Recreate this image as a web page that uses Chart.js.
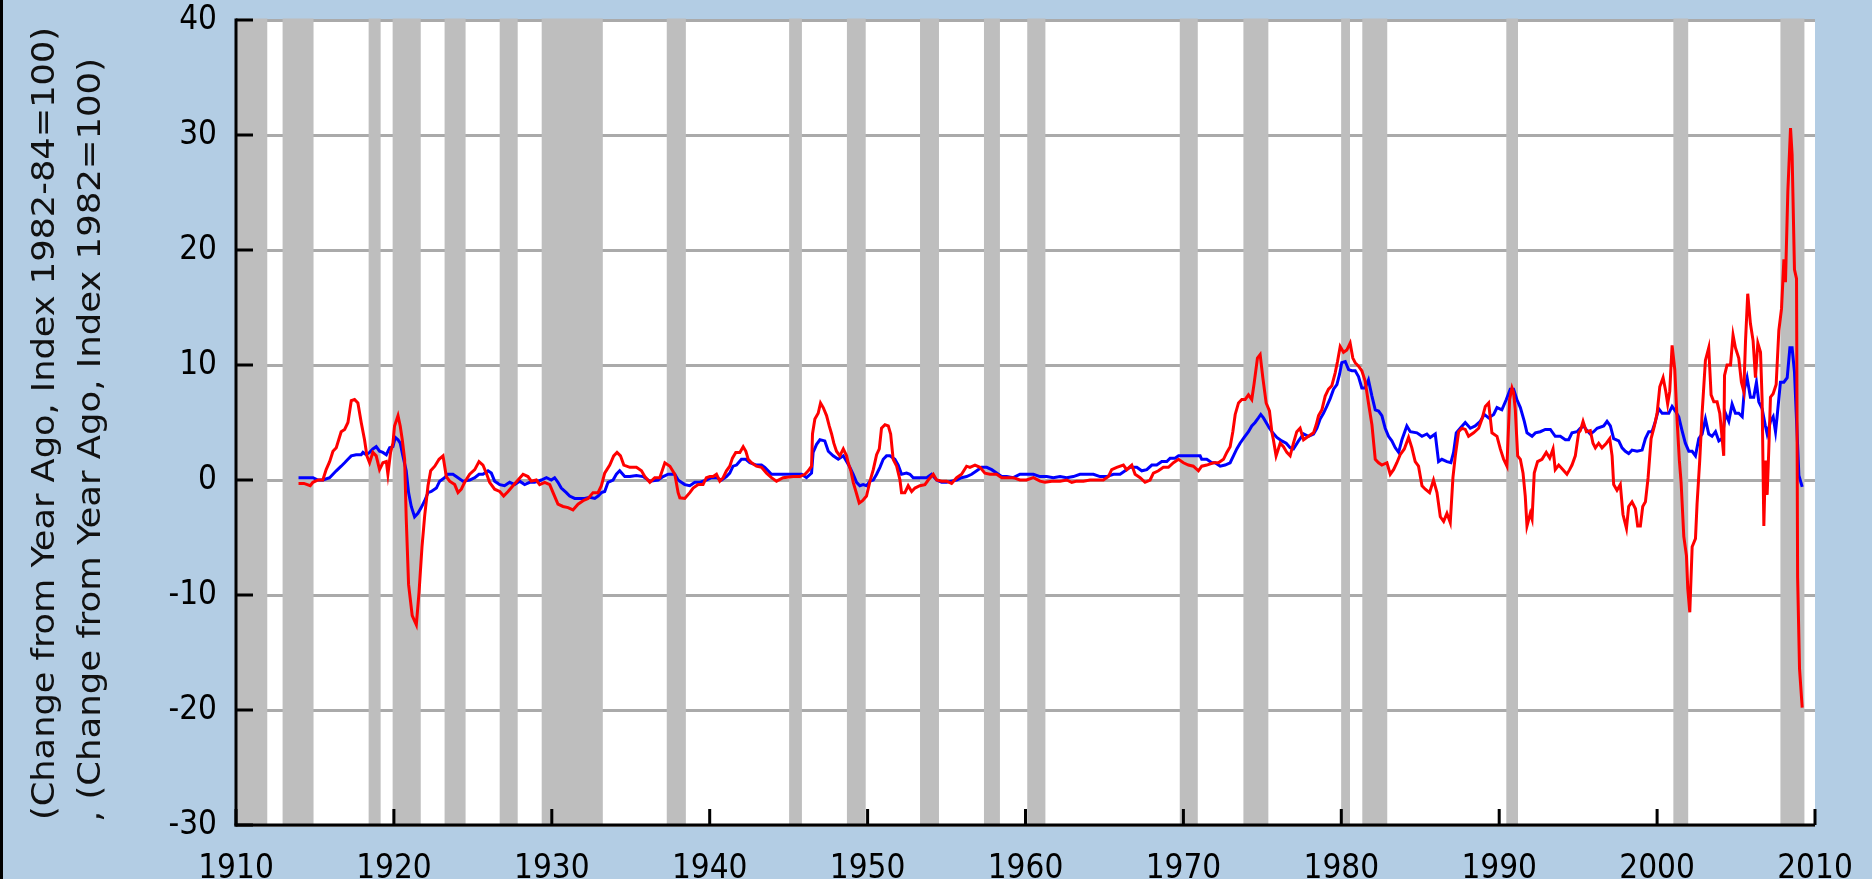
<!DOCTYPE html>
<html>
<head>
<meta charset="utf-8">
<title>Change from Year Ago</title>
<script src="https://cdn.jsdelivr.net/npm/chart.js@4.4.0/dist/chart.umd.min.js"></script>
<style>
  html, body { margin: 0; padding: 0; background: #b3cde4; overflow: hidden; }
  #wrap { position: relative; width: 1872px; height: 879px; }
</style>
</head>
<body>
<div id="wrap"><canvas id="chart" width="1872" height="879"></canvas></div>
<script>
// ── Data ─────────────────────────────────────────────────────────────────────

// Red series: (Change from Year Ago, Index 1982=100)
const ppiDates = [
  1913.96, 1914.30, 1914.70, 1914.87, 1915.20, 1915.50, 1915.71, 1915.93, 1916.14, 1916.35, 1916.66, 1916.88, 1917.09, 1917.30, 1917.51, 1917.72, 1917.93, 1918.14, 1918.29, 1918.46, 1918.67, 1918.88, 1919.09, 1919.30, 1919.52, 1919.62, 1919.79, 1919.94,
  1920.04, 1920.26, 1920.40, 1920.53, 1920.68, 1920.78, 1920.93, 1921.16, 1921.42, 1921.59, 1921.78, 1921.95, 1922.16, 1922.33, 1922.59, 1922.86, 1923.11, 1923.32, 1923.53, 1923.85, 1924.06, 1924.27, 1924.48, 1924.80, 1925.12, 1925.39, 1925.64, 1925.85, 1926.06, 1926.38, 1926.70, 1926.95, 1927.23, 1927.54, 1927.86, 1928.18, 1928.49, 1928.70, 1929.02, 1929.23, 1929.55, 1929.87,
  1930.08, 1930.39, 1930.71, 1931.03, 1931.34, 1931.66, 1931.98, 1932.30, 1932.61, 1932.93, 1933.14, 1933.35, 1933.67, 1933.92, 1934.13, 1934.35, 1934.56, 1934.94, 1935.36, 1935.68, 1935.89, 1936.21, 1936.52, 1936.84, 1937.16, 1937.48, 1937.79, 1938.00, 1938.11, 1938.42, 1938.74, 1938.95, 1939.27, 1939.58, 1939.79,
  1940.01, 1940.22, 1940.43, 1940.64, 1940.85, 1941.06, 1941.27, 1941.44, 1941.65, 1941.91, 1942.12, 1942.29, 1942.44, 1942.65, 1942.96, 1943.28, 1943.60, 1943.91, 1944.23, 1944.65, 1945.29, 1945.71, 1946.03, 1946.24, 1946.45, 1946.51, 1946.66, 1946.87, 1947.02, 1947.19, 1947.40, 1947.57, 1947.72, 1947.86, 1948.03, 1948.24, 1948.46, 1948.67, 1948.77, 1948.94, 1949.09, 1949.26, 1949.47, 1949.68, 1949.93,
  1950.15, 1950.36, 1950.57, 1950.74, 1950.88, 1951.10, 1951.31, 1951.46, 1951.62, 1951.84, 1952.05, 1952.15, 1952.36, 1952.57, 1952.79, 1953.00, 1953.31, 1953.63, 1953.84, 1954.16, 1954.37, 1954.69, 1955.00, 1955.32, 1955.64, 1955.95, 1956.27, 1956.48, 1956.80, 1957.12, 1957.43, 1957.75, 1958.17, 1958.49, 1958.91, 1959.23, 1959.65,
  1960.07, 1960.50, 1960.92, 1961.24, 1961.66, 1962.19, 1962.61, 1962.93, 1963.24, 1963.67, 1964.09, 1964.62, 1964.93, 1965.25, 1965.46, 1965.78, 1966.20, 1966.41, 1966.73, 1966.94, 1967.26, 1967.57, 1967.89, 1968.10, 1968.42, 1968.73, 1969.05, 1969.37, 1969.69,
  1970.00, 1970.32, 1970.63, 1970.95, 1971.16, 1971.48, 1971.90, 1972.22, 1972.54, 1972.75, 1972.96, 1973.13, 1973.28, 1973.49, 1973.70, 1973.91, 1974.12, 1974.33, 1974.48, 1974.69, 1974.86, 1975.03, 1975.24, 1975.45, 1975.60, 1975.70, 1975.87, 1976.13, 1976.34, 1976.55, 1976.76, 1976.97, 1977.18, 1977.39, 1977.61, 1977.92, 1978.24, 1978.41, 1978.56, 1978.77, 1978.98, 1979.19, 1979.40, 1979.61, 1979.76, 1979.93,
  1980.14, 1980.35, 1980.56, 1980.73, 1980.88, 1981.09, 1981.30, 1981.51, 1981.72, 1981.94, 1982.15, 1982.36, 1982.57, 1982.89, 1983.10, 1983.31, 1983.52, 1983.73, 1983.99, 1984.26, 1984.47, 1984.68, 1984.89, 1985.11, 1985.32, 1985.59, 1985.84, 1986.06, 1986.27, 1986.48, 1986.69, 1986.90, 1987.07, 1987.22, 1987.43, 1987.64, 1987.85, 1988.06, 1988.38, 1988.70, 1988.91, 1989.12, 1989.33, 1989.54, 1989.86,
  1990.07, 1990.28, 1990.49, 1990.66, 1990.81, 1990.91, 1991.02, 1991.17, 1991.34, 1991.51, 1991.65, 1991.76, 1991.97, 1992.08, 1992.22, 1992.43, 1992.71, 1992.98, 1993.20, 1993.41, 1993.55, 1993.77, 1994.04, 1994.29, 1994.46, 1994.61, 1994.82, 1995.03, 1995.14, 1995.31, 1995.52, 1995.77, 1995.94, 1996.09, 1996.30, 1996.51, 1996.79, 1997.00, 1997.15, 1997.25, 1997.46, 1997.67, 1997.84, 1998.06, 1998.20, 1998.41, 1998.63, 1998.77, 1998.94, 1999.09, 1999.26, 1999.43, 1999.62, 1999.83,
  2000.00, 2000.17, 2000.38, 2000.55, 2000.67, 2000.80, 2000.95, 2001.12, 2001.27, 2001.41, 2001.52, 2001.69, 2001.86, 2001.94, 2002.07, 2002.22, 2002.43, 2002.53, 2002.70, 2002.85, 2003.06, 2003.27, 2003.42, 2003.59, 2003.80, 2003.97, 2004.12, 2004.22, 2004.27, 2004.43, 2004.65, 2004.81, 2004.96, 2005.17, 2005.34, 2005.49, 2005.60, 2005.74, 2005.91, 2006.08, 2006.23, 2006.38, 2006.55, 2006.65, 2006.76, 2006.86, 2006.97, 2007.07, 2007.18, 2007.35, 2007.54, 2007.71, 2007.88, 2008.03, 2008.13, 2008.28, 2008.45, 2008.55, 2008.70, 2008.83, 2008.90, 2009.02, 2009.19,
];
const ppiValues = [
  -0.3, -0.3, -0.5, -0.2, 0.0, 0.0, 0.9, 1.6, 2.5, 2.8, 4.2, 4.4, 5.0, 6.9, 7.0, 6.7, 5.0, 3.5, 2.1, 1.5, 2.4, 2.1, 0.9, 1.5, 1.6, 0.5, 2.4, 3.2,
  4.7, 5.6, 4.7, 3.5, 1.8, -3.3, -9.1, -11.8, -12.6, -9.8, -5.8, -3.1, -0.5, 0.8, 1.2, 1.8, 2.1, 0.3, -0.1, -0.4, -1.1, -0.8, -0.2, 0.5, 0.9, 1.6, 1.3, 0.6, -0.2, -0.8, -1.0, -1.4, -1.0, -0.5, 0.0, 0.5, 0.3, -0.1, 0.0, -0.4, -0.2, -0.4,
  -1.1, -2.1, -2.3, -2.4, -2.6, -2.1, -1.8, -1.6, -1.1, -1.1, -0.5, 0.6, 1.3, 2.1, 2.4, 2.1, 1.3, 1.1, 1.1, 0.8, 0.3, -0.2, 0.2, 0.2, 1.5, 1.2, 0.5, -1.1, -1.55, -1.6, -1.1, -0.7, -0.4, -0.4, 0.2,
  0.3, 0.3, 0.5, -0.1, 0.2, 0.8, 1.2, 1.9, 2.4, 2.4, 2.9, 2.5, 1.8, 1.5, 1.2, 1.1, 0.6, 0.2, -0.1, 0.2, 0.3, 0.3, 0.5, 0.8, 1.2, 4.0, 5.3, 5.8, 6.7, 6.3, 5.6, 4.7, 4.0, 3.2, 2.5, 2.1, 2.7, 2.1, 1.5, 0.8, -0.2, -1.0, -2.0, -1.8, -1.4,
  -0.1, 0.9, 2.2, 2.7, 4.5, 4.8, 4.7, 4.0, 1.8, 1.2, 0.0, -1.1, -1.1, -0.5, -1.0, -0.7, -0.5, -0.4, 0.0, 0.5, 0.0, -0.1, -0.1, -0.3, 0.2, 0.5, 1.2, 1.1, 1.3, 1.1, 0.6, 0.5, 0.5, 0.2, 0.2, 0.2, 0.0,
  0.0, 0.2, -0.1, -0.2, -0.1, -0.1, 0.0, -0.2, -0.1, -0.1, 0.0, 0.0, 0.0, 0.3, 0.9, 1.1, 1.3, 0.9, 1.3, 0.5, 0.2, -0.2, 0.0, 0.6, 0.8, 1.1, 1.1, 1.5, 1.8,
  1.5, 1.3, 1.2, 0.8, 1.2, 1.3, 1.5, 1.5, 1.8, 2.4, 2.9, 4.2, 5.7, 6.7, 7.0, 7.0, 7.4, 7.0, 8.4, 10.6, 10.9, 8.9, 6.7, 6.0, 4.2, 3.5, 2.1, 3.2, 2.9, 2.4, 2.1, 3.2, 4.2, 4.5, 3.5, 3.8, 4.1, 4.8, 5.6, 6.1, 7.3, 7.9, 8.2, 9.3, 10.3, 11.6,
  11.1, 11.3, 11.9, 10.6, 10.2, 9.9, 9.5, 8.6, 6.7, 4.8, 1.8, 1.5, 1.3, 1.5, 0.5, 0.9, 1.5, 2.2, 2.7, 3.7, 2.8, 1.6, 1.2, -0.5, -0.8, -1.1, 0.0, -1.1, -3.2, -3.6, -2.9, -3.7, 0.2, 2.1, 4.2, 4.5, 4.4, 3.8, 4.1, 4.5, 5.3, 6.4, 6.7, 4.1, 3.8,
  2.7, 1.8, 1.2, 7.0, 8.0, 7.6, 6.1, 2.1, 1.8, 0.6, -1.4, -4.0, -2.9, -3.4, 0.6, 1.6, 1.8, 2.4, 1.9, 2.7, 0.9, 1.3, 0.9, 0.5, 0.9, 1.3, 2.1, 4.1, 4.3, 5.1, 4.2, 4.3, 3.2, 2.8, 3.2, 2.8, 3.2, 3.6, 2.1, -0.4, -0.9, -0.4, -3.0, -4.2, -2.3, -1.9, -2.5, -4.0, -4.0, -2.3, -1.9, 0.2, 3.6, 4.7,
  5.8, 8.1, 8.9, 7.7, 6.6, 7.7, 11.7, 9.6, 5.1, 1.7, -0.2, -4.9, -6.6, -9.4, -11.5, -5.8, -5.1, -2.1, 1.7, 5.8, 10.4, 11.5, 7.4, 6.8, 6.8, 5.8, 3.6, 2.1, 9.1, 10.0, 10.0, 12.6, 11.5, 10.6, 8.5, 7.7, 12.1, 16.2, 13.6, 12.1, 8.9, 11.9, 11.1, 7.0, -4.0, 1.7, -1.3, 2.5, 7.2, 7.5, 8.3, 13.0, 14.9, 19.2, 17.2, 25.1, 30.6, 28.3, 18.3, 17.5, -8.5, -16.4, -19.8,
];

// Blue series: (Change from Year Ago, Index 1982-84=100)
const cpiDates = [
  1913.96, 1914.88, 1915.19, 1915.50, 1915.93, 1916.14, 1916.35, 1916.66, 1916.88, 1917.09, 1917.30, 1917.61, 1917.93, 1918.04, 1918.25, 1918.46, 1918.67, 1918.88, 1919.09, 1919.30, 1919.52, 1919.73, 1919.94,
  1920.09, 1920.26, 1920.40, 1920.57, 1920.78, 1920.93, 1921.10, 1921.31, 1921.52, 1921.73, 1921.95, 1922.16, 1922.37, 1922.69, 1922.90, 1923.21, 1923.42, 1923.74, 1924.06, 1924.37, 1924.80, 1925.12, 1925.39, 1925.64, 1925.96, 1926.17, 1926.38, 1926.70, 1927.01, 1927.33, 1927.65, 1927.96, 1928.28, 1928.60, 1928.91, 1929.34, 1929.66, 1929.97,
  1930.18, 1930.39, 1930.60, 1930.92, 1931.13, 1931.45, 1931.77, 1932.08, 1932.40, 1932.72, 1932.93, 1933.14, 1933.35, 1933.56, 1933.88, 1934.09, 1934.30, 1934.62, 1934.94, 1935.36, 1935.78, 1936.21, 1936.73, 1937.05, 1937.37, 1937.79, 1938.00, 1938.11, 1938.42, 1938.74, 1939.06, 1939.37, 1939.79,
  1940.11, 1940.43, 1940.75, 1941.06, 1941.27, 1941.48, 1941.70, 1942.01, 1942.29, 1942.54, 1942.96, 1943.28, 1943.49, 1943.70, 1943.91, 1944.23, 1945.08, 1945.82, 1946.13, 1946.45, 1946.55, 1946.77, 1946.98, 1947.29, 1947.51, 1947.82, 1948.14, 1948.46, 1948.67, 1948.88, 1949.09, 1949.30, 1949.51, 1949.72, 1949.93,
  1950.15, 1950.36, 1950.57, 1950.78, 1950.99, 1951.20, 1951.41, 1951.73, 1951.94, 1952.15, 1952.47, 1952.68, 1952.89, 1953.74, 1954.05, 1954.37, 1954.69, 1955.00, 1955.32, 1955.64, 1955.95, 1956.27, 1956.59, 1956.91, 1957.22, 1957.54, 1957.86, 1958.17, 1958.49, 1958.81, 1959.23, 1959.65,
  1960.50, 1960.92, 1961.34, 1961.76, 1962.19, 1962.61, 1963.03, 1963.45, 1964.30, 1964.72, 1965.14, 1965.57, 1965.99, 1966.31, 1966.62, 1967.05, 1967.36, 1967.68, 1968.00, 1968.31, 1968.63, 1968.95, 1969.16, 1969.47, 1969.69,
  1970.30, 1971.06, 1971.16, 1971.48, 1971.80, 1972.01, 1972.33, 1972.64, 1972.96, 1973.17, 1973.38, 1973.59, 1973.85, 1974.12, 1974.33, 1974.54, 1974.75, 1974.90, 1975.07, 1975.24, 1975.45, 1975.66, 1975.92, 1976.23, 1976.51, 1976.76, 1976.97, 1977.29, 1977.61, 1977.92, 1978.24, 1978.45, 1978.66, 1978.87, 1979.08, 1979.30, 1979.51, 1979.72, 1979.89,
  1980.03, 1980.25, 1980.46, 1980.67, 1980.88, 1981.09, 1981.30, 1981.51, 1981.72, 1981.94, 1982.15, 1982.36, 1982.57, 1982.78, 1982.99, 1983.20, 1983.42, 1983.63, 1983.84, 1984.15, 1984.37, 1984.79, 1985.11, 1985.42, 1985.63, 1985.95, 1986.16, 1986.37, 1986.69, 1986.94, 1987.11, 1987.28, 1987.53, 1987.85, 1988.17, 1988.48, 1988.80, 1989.06, 1989.33, 1989.65, 1989.86,
  1990.17, 1990.45, 1990.70, 1990.91, 1991.12, 1991.34, 1991.59, 1991.76, 1992.08, 1992.29, 1992.60, 1992.92, 1993.24, 1993.55, 1993.87, 1994.19, 1994.40, 1994.61, 1994.93, 1995.14, 1995.35, 1995.56, 1995.77, 1995.98, 1996.20, 1996.62, 1996.83, 1997.04, 1997.25, 1997.57, 1997.78, 1997.99, 1998.20, 1998.41, 1998.73, 1999.05, 1999.26, 1999.47, 1999.68, 1999.89,
  2000.10, 2000.32, 2000.74, 2000.95, 2001.16, 2001.37, 2001.58, 2001.79, 2002.01, 2002.22, 2002.43, 2002.64, 2002.85, 2003.06, 2003.27, 2003.48, 2003.70, 2003.91, 2004.12, 2004.33, 2004.54, 2004.75, 2004.96, 2005.17, 2005.39, 2005.53, 2005.70, 2005.91, 2006.12, 2006.29, 2006.44, 2006.65, 2006.86, 2006.97, 2007.18, 2007.35, 2007.50, 2007.60, 2007.81, 2008.03, 2008.24, 2008.41, 2008.55, 2008.70, 2008.98, 2009.19,
];
const cpiValues = [
  0.2, 0.2, 0.0, 0.0, 0.2, 0.5, 0.8, 1.2, 1.5, 1.8, 2.1, 2.2, 2.2, 2.4, 2.2, 2.4, 2.7, 2.9, 2.5, 2.4, 2.2, 2.8, 2.9,
  3.7, 3.5, 3.2, 2.1, 0.8, -1.1, -2.3, -3.2, -2.9, -2.4, -1.8, -1.1, -1.0, -0.7, -0.1, 0.2, 0.5, 0.5, 0.2, -0.1, 0.0, 0.2, 0.5, 0.5, 0.8, 0.6, -0.1, -0.4, -0.5, -0.2, -0.4, -0.1, -0.4, -0.2, -0.2, 0.0, 0.2, 0.0,
  0.2, -0.2, -0.7, -1.1, -1.4, -1.6, -1.6, -1.6, -1.5, -1.6, -1.4, -1.1, -1.0, -0.2, 0.0, 0.5, 0.8, 0.3, 0.3, 0.4, 0.3, -0.1, 0.0, 0.3, 0.5, 0.5, 0.0, -0.1, -0.4, -0.5, -0.2, -0.2, 0.0,
  0.2, 0.2, 0.0, 0.3, 0.6, 1.2, 1.3, 1.8, 1.8, 1.5, 1.3, 1.3, 1.1, 0.8, 0.5, 0.5, 0.5, 0.5, 0.2, 0.6, 2.4, 3.1, 3.5, 3.4, 2.5, 2.1, 1.8, 2.1, 1.6, 1.1, 0.5, -0.2, -0.5, -0.4, -0.5,
  -0.1, 0.0, 0.5, 1.1, 1.8, 2.1, 2.1, 1.8, 1.3, 0.5, 0.6, 0.5, 0.2, 0.2, 0.5, 0.0, -0.2, -0.2, -0.1, 0.0, 0.2, 0.3, 0.5, 0.8, 1.1, 1.1, 0.9, 0.6, 0.3, 0.3, 0.2, 0.5,
  0.5, 0.3, 0.3, 0.2, 0.3, 0.2, 0.3, 0.5, 0.5, 0.3, 0.3, 0.5, 0.5, 0.8, 1.1, 1.1, 0.8, 0.9, 1.3, 1.3, 1.6, 1.6, 1.9, 1.9, 2.1,
  2.1, 2.1, 1.8, 1.8, 1.5, 1.5, 1.2, 1.3, 1.5, 2.1, 2.7, 3.2, 3.7, 4.2, 4.7, 5.0, 5.4, 5.7, 5.4, 5.0, 4.5, 4.1, 3.7, 3.4, 3.2, 2.8, 2.7, 3.4, 4.0, 3.8, 4.0, 4.5, 5.3, 5.8, 6.4, 7.1, 7.9, 8.3, 9.2,
  10.2, 10.3, 9.6, 9.5, 9.5, 9.0, 8.0, 8.0, 8.7, 7.3, 6.1, 6.0, 5.6, 4.5, 3.8, 3.4, 2.8, 2.4, 3.5, 4.7, 4.2, 4.1, 3.8, 4.0, 3.7, 4.0, 1.6, 1.8, 1.6, 1.5, 2.4, 4.1, 4.5, 5.0, 4.5, 4.7, 5.1, 5.7, 5.4, 5.7, 6.3,
  6.1, 7.0, 7.9, 7.9, 7.0, 6.3, 5.1, 4.1, 3.8, 4.1, 4.2, 4.4, 4.4, 3.8, 3.8, 3.5, 3.5, 4.1, 4.2, 4.5, 4.7, 4.3, 4.0, 4.2, 4.5, 4.7, 5.1, 4.7, 3.6, 3.4, 2.8, 2.5, 2.3, 2.6, 2.5, 2.6, 3.6, 4.2, 4.2, 5.1,
  6.2, 5.8, 5.8, 6.4, 6.0, 5.5, 4.3, 3.2, 2.5, 2.5, 2.1, 3.6, 4.0, 5.3, 4.0, 3.8, 4.2, 3.4, 3.6, 5.8, 5.1, 6.6, 5.8, 5.8, 5.5, 7.9, 8.9, 7.2, 7.2, 8.5, 6.8, 6.2, 4.7, 4.0, 5.1, 5.5, 4.2, 5.5, 8.5, 8.5, 8.9, 11.5, 11.5, 9.4, 0.4, -0.6,
];

// Shaded recession periods (decimal years)
const recessionStart = [1910.00, 1912.95, 1918.40, 1919.92, 1923.21, 1926.70, 1929.36, 1937.28, 1945.03, 1948.69, 1953.32, 1957.37, 1960.11, 1969.77, 1973.80, 1979.99, 1981.33, 1990.45, 2001.03, 2007.81];
const recessionEnd   = [1911.98, 1914.91, 1919.16, 1921.70, 1924.54, 1927.84, 1933.23, 1938.49, 1945.84, 1949.88, 1954.52, 1958.38, 1961.26, 1970.91, 1975.38, 1980.55, 1982.91, 1991.19, 2001.97, 2009.33];

// Axis titles, one per series
const axisTitles = [
  "(Change from Year Ago, Index 1982-84=100)",
  ", (Change from Year Ago, Index 1982=100)",
];

// ── Style ────────────────────────────────────────────────────────────────────
const FONT = "'DejaVu Sans Condensed', 'DejaVu Sans', sans-serif";
const BAND = "#bebebe";
const GRID = "#aaaaaa";

const toPoints = (dates, values) => dates.map((d, i) => ({ x: d, y: values[i] }));

// Plot background, recession bands, hand-drawn axes with inward ticks, titles
const framePlugin = {
  id: "frame",
  beforeDraw(chart) {
    const { ctx, chartArea: a } = chart;
    ctx.save();
    ctx.fillStyle = "#ffffff";
    ctx.fillRect(a.left, a.top, a.right - a.left, a.bottom - a.top);
    ctx.restore();
  },
  beforeDatasetsDraw(chart) {
    const { ctx, chartArea: a, scales: { x } } = chart;
    ctx.save();
    ctx.fillStyle = BAND;
    recessionStart.forEach((s, i) => {
      const x0 = Math.max(x.getPixelForValue(s), a.left);
      const x1 = Math.min(x.getPixelForValue(recessionEnd[i]), a.right);
      ctx.fillRect(x0, a.top - 1.5, x1 - x0, a.bottom - a.top + 1.5);
    });
    ctx.restore();
  },
  afterDatasetsDraw(chart) {
    const { ctx, chartArea: a, scales: { x, y } } = chart;
    ctx.save();
    ctx.fillStyle = "#000";
    // axis lines
    ctx.fillRect(a.left - 1.5, a.top - 1.5, 3, a.bottom - a.top + 3);
    ctx.fillRect(a.left - 1.5, a.bottom - 1.5, a.right - a.left + 1.5, 3);
    // inward tick marks
    y.ticks.forEach(t => {
      const py = y.getPixelForValue(t.value);
      ctx.fillRect(a.left, py - 1.5, 17, 3);
    });
    x.ticks.forEach(t => {
      const px = x.getPixelForValue(t.value);
      ctx.fillRect(px - 1.5, a.bottom - 16, 3, 16);
    });
    ctx.restore();
  },
  afterDraw(chart) {
    const { ctx } = chart;
    ctx.save();
    ctx.fillStyle = "#000";
    ctx.fillRect(0, 0, 3, chart.height);   // dark left edge
    ctx.font = "32px " + FONT;
    ctx.fillStyle = "#111";
    ctx.textBaseline = "alphabetic";
    // [baseline x, start y, end y] for each rotated title line
    const spots = [[54, 820, 27], [100, 822, 58]];
    axisTitles.forEach((text, i) => {
      const [bx, y0, y1] = spots[i];
      const w = ctx.measureText(text).width;
      ctx.save();
      ctx.translate(bx, y0);
      ctx.rotate(-Math.PI / 2);
      ctx.scale((y0 - y1) / w, 1);
      ctx.fillText(text, 0, 0);
      ctx.restore();
    });
    ctx.restore();
  },
};

new Chart(document.getElementById("chart"), {
  type: "line",
  data: {
    datasets: [
      {
        label: "Index 1982=100",
        data: toPoints(ppiDates, ppiValues),
        borderColor: "#ff0000",
        borderWidth: 3,
        pointRadius: 0,
        fill: false,
      },
      {
        label: "Index 1982-84=100",
        data: toPoints(cpiDates, cpiValues),
        borderColor: "#0000ff",
        borderWidth: 3,
        pointRadius: 0,
        fill: false,
      },
    ],
  },
  options: {
    responsive: false,
    animation: false,
    events: [],
    layout: { padding: { top: 20, right: 57, bottom: 0, left: 0 } },
    plugins: { legend: { display: false }, tooltip: { enabled: false } },
    scales: {
      x: {
        type: "linear",
        min: 1910,
        max: 2010,
        grid: { display: false },
        border: { display: false },
        ticks: {
          stepSize: 10,
          autoSkip: false,
          maxRotation: 0,
          padding: 17,
          color: "#000",
          font: { family: FONT, size: 33 },
          callback: v => String(v),
        },
        afterFit: s => {
          s.height = 54;
          s.paddingLeft = 0;
          s.paddingRight = 0;
        },
      },
      y: {
        min: -30,
        max: 40,
        grid: { color: GRID, lineWidth: 3, drawTicks: false },
        border: { display: false },
        ticks: {
          stepSize: 10,
          padding: 19,
          color: "#000",
          font: { family: FONT, size: 33 },
        },
        afterFit: s => {
          s.width = 236;
          s.paddingTop = 0;
          s.paddingBottom = 0;
        },
      },
    },
  },
  plugins: [framePlugin],
});
</script>
</body>
</html>
